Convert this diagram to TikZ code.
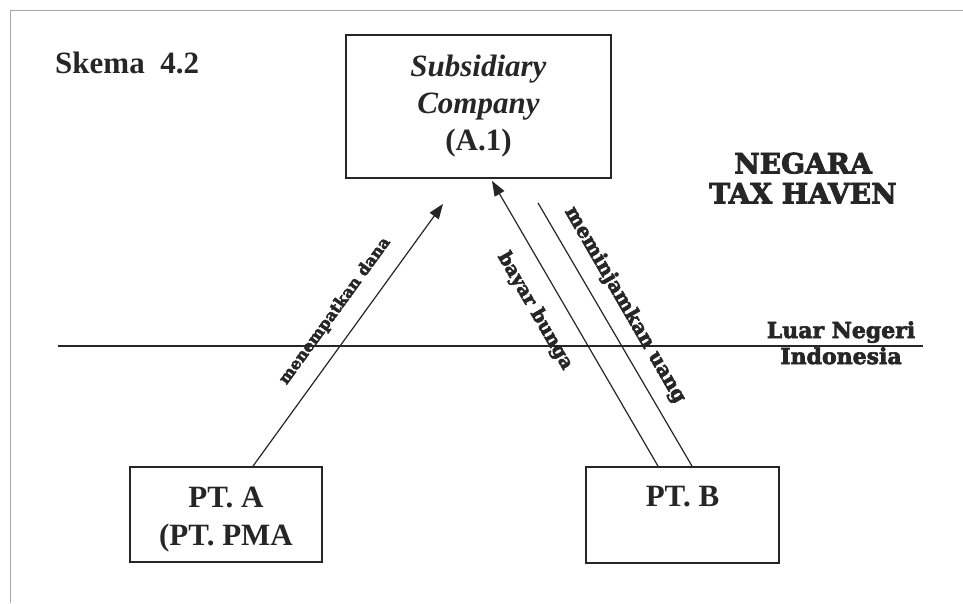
\documentclass[tikz,border=0pt]{standalone}
\usepackage{fontspec}
\setmainfont{Liberation Serif}
\newfontfamily\slabfont{DejaVu Serif Bold}[FakeBold=3]
\usetikzlibrary{arrows.meta}
\begin{document}
\begin{tikzpicture}[x=1pt,y=1pt,
  entity/.style={draw=black!85, line width=1.8pt, inner sep=0pt},
  entitytext/.style={align=center, inner sep=0pt, text=black!85,
    font=\bfseries\fontsize{31}{38}\selectfont},
  flow/.style={draw=black!85, line width=1.2pt},
  tip/.style={-{Triangle[length=15pt,width=11pt]}},
  zone/.style={font=\slabfont\fontsize{28}{30}\selectfont, align=center, text=black!85},
  side/.style={font=\slabfont\fontsize{22}{26}\selectfont, text=black!85, inner sep=0pt},
  flowlabel/.style={text=black!85, inner sep=0pt}
]
\useasboundingbox (0,0) rectangle (963,-603);

% page frame
\draw[gray!70, line width=0.8pt] (963,-10) -- (10,-10) -- (10,-603);

% title
\node[anchor=base west, inner sep=0pt, text=black!85,
  font=\bfseries\fontsize{31}{37}\selectfont] (title) at (55,-73) {Skema\ \ 4.2};

% entities
\node[entity, minimum width=265pt, minimum height=143pt] (sub) at (478.5,-106.5) {};
\node[entitytext, font=\bfseries\fontsize{31}{37}\selectfont] (subtext) at (sub.center)
  {\textit{Subsidiary}\\\textit{Company}\\(A.1)};
\node[entity, minimum width=192pt, minimum height=95pt] (pta) at (226,-514.5) {};
\node[entitytext] (ptatext) at ([yshift=-5pt]pta.center) {PT.\ A\\(PT.\ PMA};
\node[entity, minimum width=193pt, minimum height=96pt] (ptb) at (682.5,-515) {};
\node[entitytext] (ptbtext) at ([yshift=-6pt]ptb.center) {PT.\ B\\\strut};

% zone caption
\node[zone] (haven) at (803,-178) {NEGARA\\TAX HAVEN};

% border between abroad and Indonesia
\coordinate (bl) at (58,-346);
\coordinate (br) at (923,-346);
\draw[black!85, line width=1.2pt] (bl) -- (br);
\node[side, anchor=base] (luar) at (841,-338) {Luar Negeri};
\node[side, anchor=base] (indo) at (841,-364) {Indonesia};

% flows
\draw[flow, tip] ([xshift=27pt]pta.north) -- ([xshift=-35.5pt, yshift=-25pt]sub.south);
\draw[flow, tip] ([xshift=-24.5pt]ptb.north) -- ([xshift=13.5pt, yshift=-2pt]sub.south);
\draw[flow] ([xshift=9.5pt]ptb.north) -- ([xshift=59.5pt, yshift=-24pt]sub.south);

\node[flowlabel, rotate=54, font=\slabfont\fontsize{16}{18}\selectfont] (l1) at (335,-311) {menempatkan dana};
\node[flowlabel, rotate=-60, font=\slabfont\fontsize{19}{21}\selectfont] (l2) at (535,-311) {bayar bunga};
\node[flowlabel, rotate=-60, font=\slabfont\fontsize{20}{22}\selectfont] (l3) at (625,-305) {meminjamkan uang};
\end{tikzpicture}
\end{document}
